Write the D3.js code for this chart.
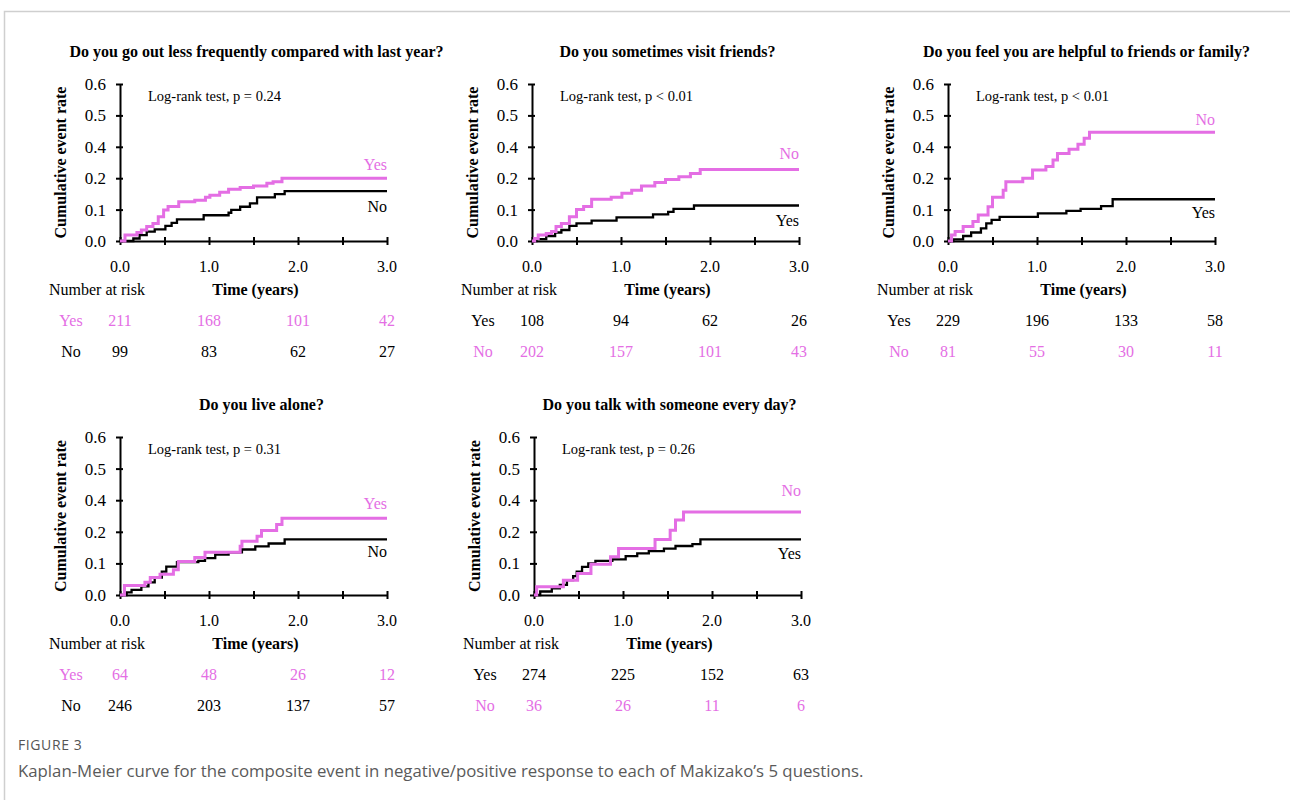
<!DOCTYPE html>
<html>
<head>
<meta charset="utf-8">
<script src="https://cdn.jsdelivr.net/npm/d3@7"></script>
<style>
  body { margin: 0; background: #fff; }
  svg { display: block; }
</style>
</head>
<body>
<svg id="draw" width="1290" height="800"></svg>
<script>
// panel titles and test results
let titles = [
    "Do you go out less frequently compared with last year?",
    "Do you sometimes visit friends?",
    "Do you feel you are helpful to friends or family?",
    "Do you live alone?",
    "Do you talk with someone every day?"
];
let pTexts = ["p = 0.24", "p < 0.01", "p < 0.01", "p = 0.31", "p = 0.26"];
// which answer is the pink (higher risk) group
let pinkGroup = ["Yes", "No", "No", "Yes", "No"];

let xTicks = [0, 0.5, 1, 1.5, 2, 2.5, 3];
let xTickLabels = ["0.0", "1.0", "2.0", "3.0"];
let yTicks = [0, 0.1, 0.2, 0.3, 0.4, 0.5];
let yTickLabels = ["0.0", "0.1", "0.2", "0.4", "0.5", "0.6"];
let riskTimes = [0, 1, 2, 3];

// [time, cumulative event] steps
let goOutYes = [[0,0],[0.056,0.019],[0.19,0.027],[0.24,0.035],[0.30,0.046],[0.37,0.056],[0.43,0.077],[0.49,0.099],[0.54,0.11],[0.66,0.125],[0.84,0.13],[0.96,0.139],[1.01,0.146],[1.12,0.155],[1.22,0.165],[1.35,0.17],[1.50,0.175],[1.65,0.184],[1.72,0.189],[1.82,0.20],[3.0,0.20]];
let goOutNo = [[0,0],[0.15,0.008],[0.22,0.019],[0.30,0.03],[0.39,0.037],[0.51,0.048],[0.58,0.058],[0.64,0.069],[0.94,0.082],[1.22,0.09],[1.25,0.099],[1.35,0.109],[1.46,0.12],[1.54,0.139],[1.74,0.149],[1.85,0.159],[3.0,0.159]];
let friendsYes = [[0,0],[0.05,0.006],[0.16,0.016],[0.26,0.027],[0.33,0.035],[0.42,0.048],[0.50,0.056],[0.67,0.065],[0.95,0.075],[1.36,0.085],[1.53,0.093],[1.59,0.102],[1.82,0.113],[3.0,0.113]];
let friendsNo = [[0,0],[0.03,0.008],[0.07,0.019],[0.16,0.024],[0.22,0.03],[0.27,0.046],[0.33,0.056],[0.42,0.077],[0.50,0.10],[0.58,0.11],[0.67,0.133],[0.89,0.139],[1.01,0.152],[1.12,0.162],[1.23,0.175],[1.38,0.186],[1.50,0.196],[1.65,0.205],[1.78,0.215],[1.89,0.228],[3.0,0.228]];
let helpfulYes = [[0,0],[0.06,0.005],[0.17,0.016],[0.26,0.027],[0.37,0.04],[0.43,0.056],[0.49,0.067],[0.58,0.077],[1.01,0.088],[1.33,0.096],[1.49,0.102],[1.72,0.111],[1.85,0.133],[3.0,0.133]];
let helpfulNo = [[0,0],[0.04,0.019],[0.08,0.03],[0.17,0.046],[0.28,0.062],[0.34,0.083],[0.45,0.109],[0.50,0.139],[0.62,0.162],[0.65,0.189],[0.84,0.2],[0.95,0.226],[1.10,0.237],[1.18,0.258],[1.23,0.279],[1.36,0.292],[1.46,0.308],[1.53,0.327],[1.59,0.346],[3.0,0.346]];
let aloneYes = [[0,0],[0.05,0.03],[0.28,0.04],[0.34,0.055],[0.45,0.066],[0.60,0.08],[0.655,0.106],[0.84,0.119],[0.955,0.135],[1.35,0.154],[1.37,0.17],[1.54,0.186],[1.59,0.204],[1.76,0.223],[1.82,0.243],[3.0,0.243]];
let aloneNo = [[0,0],[0.075,0.008],[0.13,0.016],[0.24,0.027],[0.32,0.04],[0.39,0.055],[0.47,0.074],[0.52,0.09],[0.64,0.104],[0.88,0.108],[0.955,0.117],[1.07,0.128],[1.22,0.135],[1.37,0.144],[1.52,0.154],[1.67,0.163],[1.85,0.176],[3.0,0.176]];
let talkYes = [[0,0],[0.07,0.011],[0.20,0.021],[0.29,0.032],[0.37,0.047],[0.44,0.06],[0.48,0.074],[0.54,0.089],[0.61,0.1],[0.69,0.108],[0.88,0.113],[1.03,0.123],[1.16,0.132],[1.29,0.139],[1.46,0.147],[1.59,0.155],[1.78,0.161],[1.87,0.176],[3.0,0.176]];
let talkNo = [[0,0],[0.03,0.026],[0.33,0.047],[0.49,0.068],[0.64,0.097],[0.86,0.121],[0.95,0.147],[1.36,0.176],[1.53,0.205],[1.59,0.237],[1.68,0.263],[3.0,0.263]];

// number at risk at 0, 1, 2, 3 years
let riskGoOutYes = [211, 168, 101, 42], riskGoOutNo = [99, 83, 62, 27];
let riskFriendsYes = [108, 94, 62, 26], riskFriendsNo = [202, 157, 101, 43];
let riskHelpfulYes = [229, 196, 133, 58], riskHelpfulNo = [81, 55, 30, 11];
let riskAloneYes = [64, 48, 26, 12], riskAloneNo = [246, 203, 137, 57];
let riskTalkYes = [274, 225, 152, 63], riskTalkNo = [36, 26, 11, 6];

let curvesYes = [goOutYes, friendsYes, helpfulYes, aloneYes, talkYes];
let curvesNo = [goOutNo, friendsNo, helpfulNo, aloneNo, talkNo];
let risksYes = [riskGoOutYes, riskFriendsYes, riskHelpfulYes, riskAloneYes, riskTalkYes];
let risksNo = [riskGoOutNo, riskFriendsNo, riskHelpfulNo, riskAloneNo, riskTalkNo];

// layout: plot origin and label nudges per panel
let layout = [
    {x: 120, top: 84, bottom: 241, upOff: -8, downOff: 21, titleOff: 3},
    {x: 532, top: 84, bottom: 241, upOff: -10, downOff: 20, titleOff: 2},
    {x: 948, top: 84, bottom: 241, upOff: -7, downOff: 19, titleOff: 5},
    {x: 120, top: 437, bottom: 595, upOff: -9, downOff: 18, titleOff: 8},
    {x: 534, top: 437, bottom: 595, upOff: -16, downOff: 20, titleOff: 2}
];
let plotWidth = 267;
let pink = "#e46ee4";
let serif = "'Liberation Serif', 'Times New Roman', serif";

let svg = d3.select("#draw");

function drawFrame() {
    svg.append("rect").attr("width", 1290).attr("height", 800).attr("fill", "#fff");
    svg.append("path")
        .attr("d", "M4.5,800 V11.5 H1290")
        .attr("fill", "none")
        .attr("stroke", "#cfcfcf")
        .attr("stroke-width", 1.5);
    svg.append("text")
        .attr("x", 18).attr("y", 750)
        .attr("font-family", "'Open Sans', sans-serif")
        .attr("font-size", 14)
        .attr("letter-spacing", 0.6)
        .attr("fill", "#555")
        .text("FIGURE 3");
    svg.append("text")
        .attr("x", 18).attr("y", 777)
        .attr("font-family", "'Open Sans', sans-serif")
        .attr("font-size", 16.8)
        .attr("fill", "#5a5a5a")
        .text("Kaplan-Meier curve for the composite event in negative/positive response to each of Makizako\u2019s 5 questions.");
}

function drawPanel(i) {
    let L = layout[i];
    let x = d3.scaleLinear().domain([0, 3]).range([L.x, L.x + plotWidth]);
    let y = d3.scaleLinear().domain([0, 0.5]).range([L.bottom, L.top]);
    let g = svg.append("g").attr("font-family", serif);

    g.append("text")
        .attr("x", x(1.5) + L.titleOff)
        .attr("y", L.top - 27)
        .attr("text-anchor", "middle")
        .attr("font-weight", "bold")
        .attr("font-size", 16)
        .text(titles[i]);

    // axes with ticks crossing the line
    let yAxis = g.append("g")
        .attr("transform", "translate(" + L.x + ",0)")
        .call(d3.axisLeft(y).tickValues(yTicks).tickSize(4).tickSizeOuter(0)
            .tickFormat((d, k) => yTickLabels[k]));
    let xAxis = g.append("g")
        .attr("transform", "translate(0," + L.bottom + ")")
        .call(d3.axisBottom(x).tickValues(xTicks).tickSize(4).tickSizeOuter(0)
            .tickFormat(d => ""));
    [yAxis, xAxis].forEach(a => {
        a.select(".domain").attr("stroke", "#000").attr("stroke-width", 2);
        a.selectAll(".tick line").attr("stroke", "#000").attr("stroke-width", 2);
    });
    yAxis.selectAll(".tick line").attr("x1", 3);
    xAxis.selectAll(".tick line").attr("y1", -4);
    yAxis.selectAll(".tick text")
        .attr("x", -14)
        .attr("font-family", serif)
        .attr("font-size", 17)
        .attr("fill", "#000");

    g.selectAll(".xlab")
        .data(xTickLabels)
        .enter()
        .append("text")
        .attr("x", (d, k) => x(k))
        .attr("y", L.bottom + 31)
        .attr("text-anchor", "middle")
        .attr("font-size", 16)
        .text(d => d);

    g.append("text")
        .attr("transform", "translate(" + (L.x - 54) + "," + ((L.top + L.bottom) / 2) + ") rotate(-90)")
        .attr("text-anchor", "middle")
        .attr("font-weight", "bold")
        .attr("font-size", 16)
        .text("Cumulative event rate");

    g.append("text")
        .attr("x", L.x + 28)
        .attr("y", L.top + 17)
        .attr("font-size", 14.5)
        .text("Log-rank test, " + pTexts[i]);

    // curves
    let line = d3.line().x(d => x(d[0])).y(d => y(d[1])).curve(d3.curveStepAfter);
    let yesPink = pinkGroup[i] == "Yes";
    let pinkCurve = yesPink ? curvesYes[i] : curvesNo[i],
        blackCurve = yesPink ? curvesNo[i] : curvesYes[i];
    g.append("path").datum(blackCurve)
        .attr("d", line).attr("fill", "none")
        .attr("stroke", "#000").attr("stroke-width", 2.3);
    g.append("path").datum(pinkCurve)
        .attr("d", line).attr("fill", "none")
        .attr("stroke", pink).attr("stroke-width", 3);

    let pinkEnd = pinkCurve[pinkCurve.length - 1][1],
        blackEnd = blackCurve[blackCurve.length - 1][1];
    g.append("text")
        .attr("x", x(3)).attr("y", y(pinkEnd) + L.upOff)
        .attr("text-anchor", "end").attr("font-size", 16).attr("fill", pink)
        .text(pinkGroup[i]);
    g.append("text")
        .attr("x", x(3)).attr("y", y(blackEnd) + L.downOff)
        .attr("text-anchor", "end").attr("font-size", 16).attr("fill", "#000")
        .text(yesPink ? "No" : "Yes");

    // number at risk table
    g.append("text")
        .attr("x", L.x - 71).attr("y", L.bottom + 54)
        .attr("font-size", 16)
        .text("Number at risk");
    g.append("text")
        .attr("x", x(1.5) + 2).attr("y", L.bottom + 54)
        .attr("text-anchor", "middle")
        .attr("font-weight", "bold")
        .attr("font-size", 16)
        .text("Time (years)");

    let rows = [
        {name: "Yes", vals: risksYes[i], color: yesPink ? pink : "#000", dy: 85},
        {name: "No", vals: risksNo[i], color: yesPink ? "#000" : pink, dy: 116}
    ];
    rows.forEach(r => {
        g.append("text")
            .attr("x", L.x - 49).attr("y", L.bottom + r.dy)
            .attr("text-anchor", "middle")
            .attr("font-size", 16).attr("fill", r.color)
            .text(r.name);
        g.selectAll(null)
            .data(r.vals)
            .enter()
            .append("text")
            .attr("x", (d, k) => x(riskTimes[k]))
            .attr("y", L.bottom + r.dy)
            .attr("text-anchor", "middle")
            .attr("font-size", 16).attr("fill", r.color)
            .text(d => d);
    });
}

drawFrame();
for (var i = 0; i < titles.length; i++) drawPanel(i);
</script>
</body>
</html>
